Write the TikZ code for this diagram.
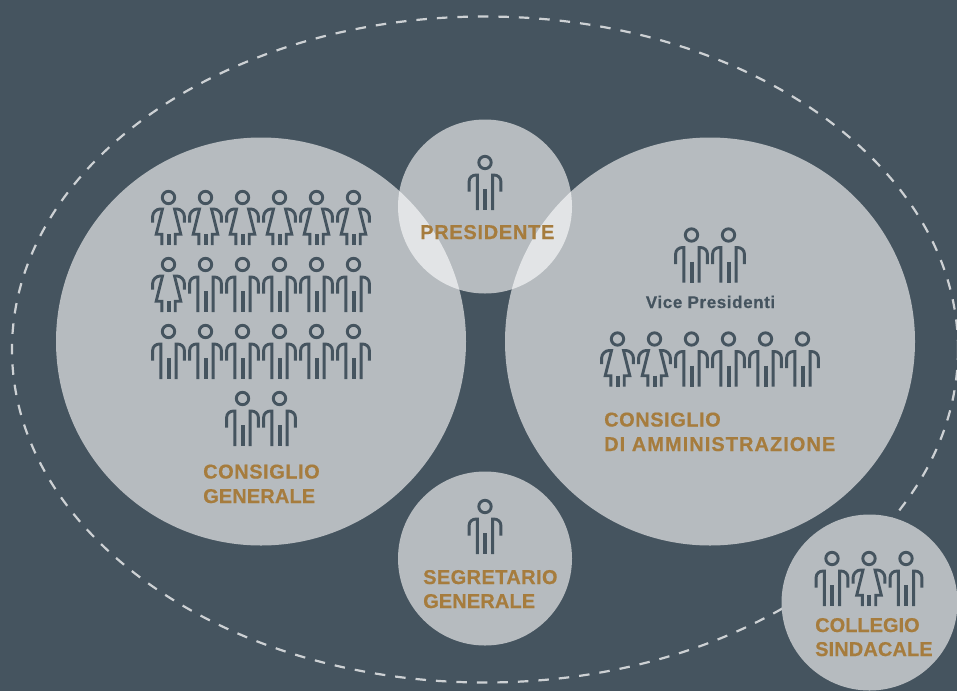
\documentclass[tikz,border=0pt]{standalone}
\usetikzlibrary{shapes.geometric}
\usepackage{fontspec}
\setmainfont{Liberation Sans}
\newfontfamily\labelfont[FakeBold=0.5]{Liberation Sans}
\definecolor{bgslate}{HTML}{45545F}
\definecolor{disc}{HTML}{B6BBBF}
\definecolor{overlap}{HTML}{E2E4E6}
\definecolor{gold}{HTML}{A67C3D}
\definecolor{dashline}{HTML}{CDD1D4}
\newcommand{\spaced}[2]{{\addfontfeatures{LetterSpace=#1}#2}}
\tikzset{
  x=1pt,y=-1pt,
  disc/.style 2 args={ellipse,fill=disc,draw=none,inner sep=0pt,outer sep=0pt,minimum width=#1,minimum height=#2},
  figline/.style={draw=bgslate,line width=2.9pt,line join=miter,fill=none},
  figbar/.style={draw=bgslate,line width=4pt},
  orglabel/.style={anchor=base west,inner sep=0pt,text=gold,font=\labelfont\bfseries\fontsize{20}{24}\selectfont},
  man/.pic={
    \draw[figline] (0,0) circle (6.2);
    \draw[figline] (-15.9,29) -- (-15.9,19) .. controls (-15.9,15) and (-12.5,12.5) .. (-9,12.5) -- (-7.6,12.5) -- (-7.6,47.7);
    \draw[figline] (15.9,29) -- (15.9,19) .. controls (15.9,15) and (12.5,12.5) .. (9,12.5) -- (7.6,12.5) -- (7.6,47.7);
    \draw[figbar] (0,26.7) -- (0,47.7);
  },
  woman/.pic={
    \draw[figline] (0,0) circle (6.2);
    \draw[figline] (-15.9,25) -- (-15.9,19) .. controls (-15.9,15) and (-12,11.5) .. (-8.5,11.5) -- (-6,11.5) -- (-12.3,36.7) -- (-6.7,36.7) -- (-6.7,47.7);
    \draw[figline] (15.9,25) -- (15.9,19) .. controls (15.9,15) and (12,11.5) .. (8.5,11.5) -- (6,11.5) -- (12.3,36.7) -- (6.7,36.7) -- (6.7,47.7);
    \draw[figbar] (0,36.7) -- (0,47.7);
  },
}
\begin{document}
\begin{tikzpicture}
\useasboundingbox (0,0) rectangle (957,691);
\fill[bgslate] (0,0) rectangle (957,691);
\clip (0,0) rectangle (957,691);
\draw[dashline,line width=2.2pt,dash pattern=on 10.5pt off 10pt] (485,349.5) ellipse [x radius=473,y radius=333];
\node[disc={410pt}{408pt}] (generale) at (261,341.5) {};
\node[disc={410pt}{408pt}] (cda) at (710,341.5) {};
\node[disc={174pt}{174pt}] (presidente) at (485,206.5) {};
\node[disc={174pt}{174pt}] (segretario) at (485,558.5) {};
\node[disc={176pt}{176pt}] (collegio) at (869.5,602.5) {};
\begin{scope}
  \clip (485,206.5) circle (87);
  \fill[overlap] (261,341.5) ellipse [x radius=205,y radius=204];
  \fill[overlap] (710,341.5) ellipse [x radius=205,y radius=204];
\end{scope}
% left group
\foreach \x in {168.5,205.5,242.5,279.5,316.5,353.5} \pic at (\x,197.5) {woman};
\pic at (168.5,264.5) {woman};
\foreach \x in {205.5,242.5,279.5,316.5,353.5} \pic at (\x,264.5) {man};
\foreach \x in {168.5,205.5,242.5,279.5,316.5,353.5} \pic at (\x,331.5) {man};
\foreach \x in {242.5,279.5} \pic at (\x,398.5) {man};
% president, secretary
\pic at (485,162.5) {man};
\pic at (485,506.5) {man};
% right group
\foreach \x in {691.5,728.5} \pic at (\x,235) {man};
\foreach \x in {617.5,654.5} \pic at (\x,339) {woman};
\foreach \x in {691.5,728.5,765.5,802.5} \pic at (\x,339) {man};
% collegio
\pic at (832,558.5) {man};
\pic at (869,558.5) {woman};
\pic at (906,558.5) {man};
% labels
\node[orglabel] (t1) at (203,478.5) {\spaced{2.7}{CONSIGLIO}};
\node[orglabel] (t2) at (203,503) {\spaced{0.6}{GENERALE}};
\node[orglabel] (t3) at (420,239) {\spaced{3.5}{PRESIDENTE}};
\node[orglabel] (t4) at (604,426.5) {\spaced{2.7}{CONSIGLIO}};
\node[orglabel] (t5) at (604,451) {\spaced{5.2}{DI AMMINISTRAZIONE}};
\node[orglabel] (t6) at (423,584) {\spaced{2}{SEGRETARIO}};
\node[orglabel] (t7) at (423,608) {\spaced{0.6}{GENERALE}};
\node[orglabel] (t8) at (815,632) {COLLEGIO};
\node[orglabel] (t9) at (815,656) {\spaced{0.5}{SINDACALE}};
\node[anchor=base,inner sep=0pt,text=bgslate,font=\labelfont\bfseries\fontsize{17}{19}\selectfont] (vp) at (710.5,308) {\spaced{3.5}{Vice Presidenti}};
\end{tikzpicture}
\end{document}
